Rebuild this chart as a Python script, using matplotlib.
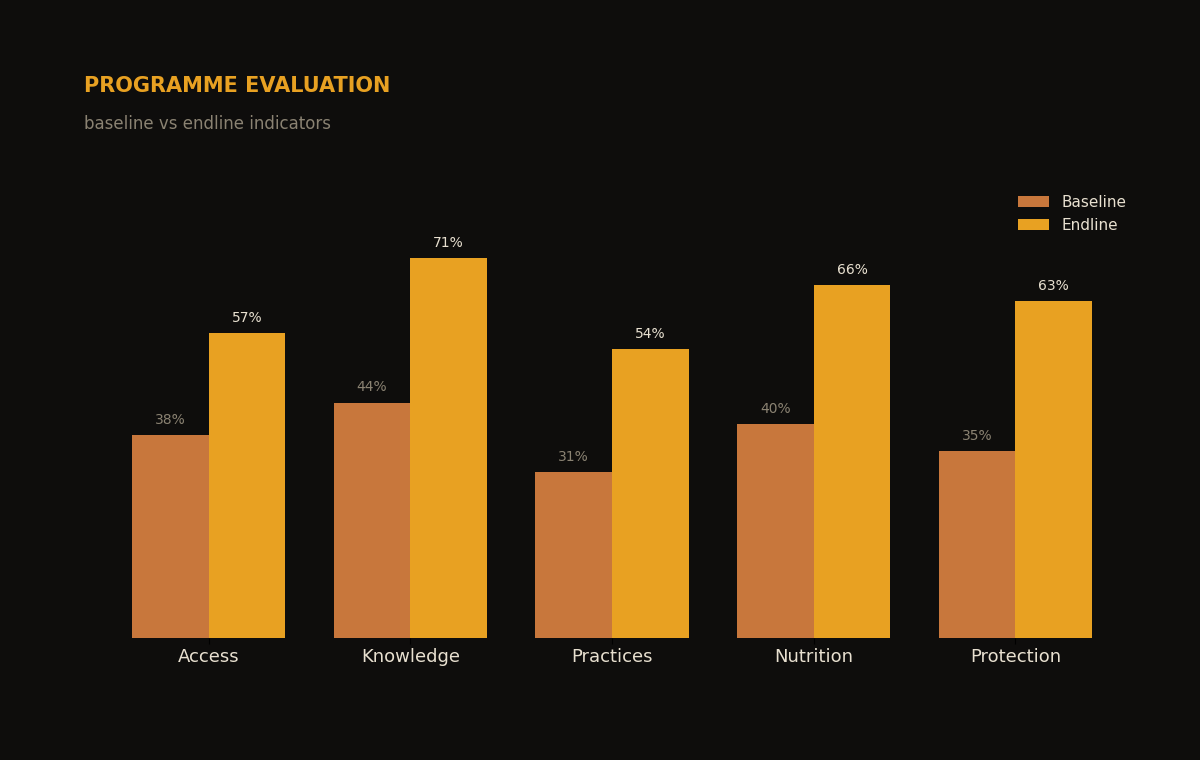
import numpy as np
import matplotlib
matplotlib.use('Agg')
import matplotlib.pyplot as plt

# data
categories = ['Access', 'Knowledge', 'Practices', 'Nutrition', 'Protection']
baseline = [38, 44, 31, 40, 35]
endline = [57, 71, 54, 66, 63]

BG = '#0e0d0c'
C_BASE = '#c8773c'
C_END = '#e8a122'
TXT = '#e8e0d0'
MUTED = '#8a8272'

fig = plt.figure(figsize=(12, 7.6), dpi=100, facecolor=BG)
ax = fig.add_axes([0.07, 0.1605, 0.88, 0.598])
ax.set_facecolor(BG)

x = np.arange(len(categories))
w = 0.38
b1 = ax.bar(x - w / 2, baseline, w, color=C_BASE, label='Baseline')
b2 = ax.bar(x + w / 2, endline, w, color=C_END, label='Endline')

for rect, v in zip(b1, baseline):
    ax.annotate(f'{v}%', (rect.get_x() + rect.get_width() / 2, v),
                xytext=(0, 6), textcoords='offset points',
                ha='center', va='bottom', color=MUTED, fontsize=10)
for rect, v in zip(b2, endline):
    ax.annotate(f'{v}%', (rect.get_x() + rect.get_width() / 2, v),
                xytext=(0, 6), textcoords='offset points',
                ha='center', va='bottom', color=TXT, fontsize=10)

ax.set_ylim(0, 85)
ax.set_xticks(x)
ax.set_xticklabels(categories, color=TXT, fontsize=13)
ax.tick_params(axis='x', colors='#000000', labelcolor=TXT, length=4)
ax.set_yticks([])
for s in ax.spines.values():
    s.set_visible(False)

leg = ax.legend(loc='upper right', frameon=False, fontsize=11,
                bbox_to_anchor=(1.0, 1.005))
for t in leg.get_texts():
    t.set_color(TXT)

fig.text(0.07, 0.8875, 'PROGRAMME EVALUATION', color=C_END,
         fontsize=15, fontweight='bold', ha='left', va='center')
fig.text(0.07, 0.8365, 'baseline vs endline indicators', color=MUTED,
         fontsize=12, ha='left', va='center')

plt.savefig('out.png', dpi=100, facecolor=BG)
